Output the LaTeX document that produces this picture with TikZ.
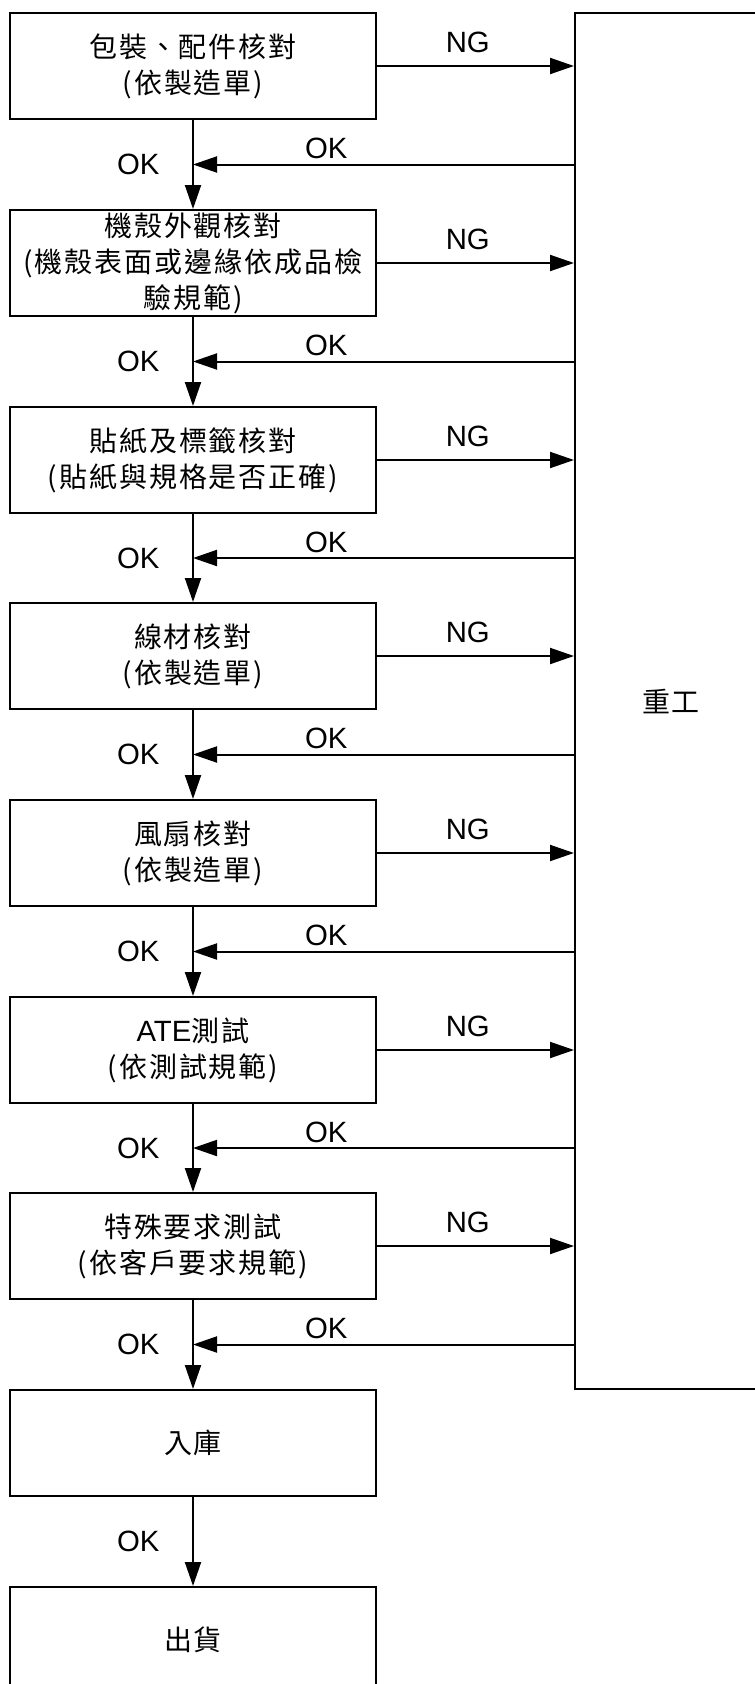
\documentclass[tikz,border=0pt]{standalone}
\usepackage{fontspec}
\setmainfont{Liberation Sans}
\newfontfamily\cjk{Noto Sans CJK TC}[LetterSpace=7]
\usetikzlibrary{arrows.meta}

\begin{document}
\begin{tikzpicture}[x=0.75pt,y=-0.75pt]
	\tikzset{kasten/.style={rectangle, draw=black, line width=1.5pt, minimum width=275pt, minimum height=79.5pt, inner sep=0, align=center, font=\cjk\fontsize{21}{27}\selectfont},
		pfeil/.style={line width=1.5pt, -{Triangle[length=18pt,width=12pt]}},
		ok/.style={font=\fontsize{22}{26}\selectfont}}
	\useasboundingbox (0,0) rectangle (755,1684);
	\clip (0,0) rectangle (755,1684);

	\node[kasten] at (193,66) (pack) {包裝、配件核對\\(依製造單)};
	\node[kasten] at (193,263) (shell) {機殼外觀核對\\(機殼表面或邊緣依成品檢\\驗規範)};
	\node[kasten] at (193,460) (sticker) {貼紙及標籤核對\\(貼紙與規格是否正確)};
	\node[kasten] at (193,656) (cable) {線材核對\\(依製造單)};
	\node[kasten] at (193,853) (fan) {風扇核對\\(依製造單)};
	\node[kasten] at (193,1050) (ate) {{\rmfamily\fontsize{22}{27}\selectfont ATE}測試\\(依測試規範)};
	\node[kasten] at (193,1246) (special) {特殊要求測試\\(依客戶要求規範)};
	\node[kasten] at (193,1443) (stock) {入庫};
	\node[kasten] at (193,1640) (ship) {出貨};
	\node[kasten, minimum width=144pt, minimum height=1032pt] at (671,701) (rework) {重工};

	% OK edges down
	\draw[pfeil] (pack) -- coordinate (m1) node[ok, left=21pt] {OK} (shell);
	\draw[pfeil] (shell) -- coordinate (m2) node[ok, left=21pt] {OK} (sticker);
	\draw[pfeil] (sticker) -- coordinate (m3) node[ok, left=21pt] {OK} (cable);
	\draw[pfeil] (cable) -- coordinate (m4) node[ok, left=21pt] {OK} (fan);
	\draw[pfeil] (fan) -- coordinate (m5) node[ok, left=21pt] {OK} (ate);
	\draw[pfeil] (ate) -- coordinate (m6) node[ok, left=21pt] {OK} (special);
	\draw[pfeil] (special) -- coordinate (m7) node[ok, left=21pt] {OK} (stock);
	\draw[pfeil] (stock) -- node[ok, left=21pt] {OK} (ship);

	% NG edges
	\draw[pfeil] (pack) -- node[ok, above=6pt, pos=0.46] {NG} (pack -| rework.west);
	\draw[pfeil] (shell) -- node[ok, above=6pt, pos=0.46] {NG} (shell -| rework.west);
	\draw[pfeil] (sticker) -- node[ok, above=6pt, pos=0.46] {NG} (sticker -| rework.west);
	\draw[pfeil] (cable) -- node[ok, above=6pt, pos=0.46] {NG} (cable -| rework.west);
	\draw[pfeil] (fan) -- node[ok, above=6pt, pos=0.46] {NG} (fan -| rework.west);
	\draw[pfeil] (ate) -- node[ok, above=6pt, pos=0.46] {NG} (ate -| rework.west);
	\draw[pfeil] (special) -- node[ok, above=6pt, pos=0.46] {NG} (special -| rework.west);

	% OK edges back from rework
	\draw[pfeil] (rework.west |- m1) -- node[ok, above=0pt, pos=0.65] {OK} (m1);
	\draw[pfeil] (rework.west |- m2) -- node[ok, above=0pt, pos=0.65] {OK} (m2);
	\draw[pfeil] (rework.west |- m3) -- node[ok, above=0pt, pos=0.65] {OK} (m3);
	\draw[pfeil] (rework.west |- m4) -- node[ok, above=0pt, pos=0.65] {OK} (m4);
	\draw[pfeil] (rework.west |- m5) -- node[ok, above=0pt, pos=0.65] {OK} (m5);
	\draw[pfeil] (rework.west |- m6) -- node[ok, above=0pt, pos=0.65] {OK} (m6);
	\draw[pfeil] (rework.west |- m7) -- node[ok, above=0pt, pos=0.65] {OK} (m7);
\end{tikzpicture}
\end{document}
